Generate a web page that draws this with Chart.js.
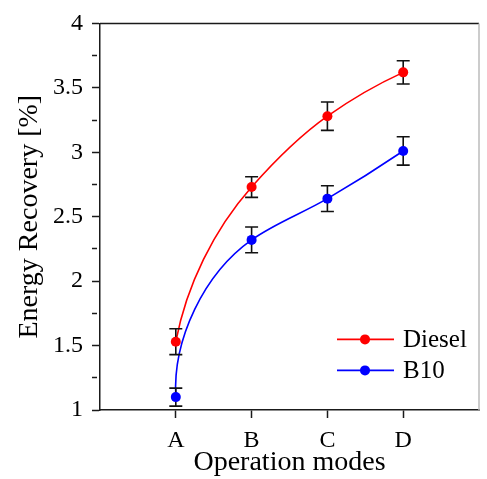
<!DOCTYPE html>
<html>
<head>
<meta charset="utf-8">
<title>Energy Recovery</title>
<script src="https://cdn.jsdelivr.net/npm/chart.js@4.4.1/dist/chart.umd.min.js"></script>
<style>
  body { margin: 0; background: #fff; }
  #wrap { width: 487px; height: 479px; position: relative; }
</style>
</head>
<body>
<div id="wrap"><canvas id="chart"></canvas></div>
<script>
'use strict';

// ===== data =====
var categories = ['A', 'B', 'C', 'D'];
var seriesNames = ['Diesel', 'B10'];
var dieselValues = [1.53, 2.73, 3.28, 3.62];
var dieselErrors = [0.10, 0.08, 0.11, 0.09];
var b10Values = [1.10, 2.32, 2.64, 3.01];
var b10Errors = [0.07, 0.10, 0.10, 0.11];
var yTicks = [1, 1.5, 2, 2.5, 3, 3.5, 4];

var FONT = 'Liberation Serif';
var AXIS = '#1a1a1a';

// categories sit at x = 1..4 on a 0..5 axis
function toPoints(values) {
  return values.map(function (v, i) { return { x: i + 1, y: v }; });
}

// smooth parametric curve through the point elements (pixel positions come from the scales)
function smoothPath(ctx, pts) {
  var n = pts.length, h = [], d = [], t = [], i;
  for (i = 0; i < n - 1; i++) {
    var dx = pts[i + 1].x - pts[i].x, dy = pts[i + 1].y - pts[i].y;
    var L = Math.sqrt(dx * dx + dy * dy);
    h.push(L);
    d.push({ x: dx / L, y: dy / L });
  }
  for (i = 1; i < n - 1; i++) {
    var a = h[i] * h[i], b = h[i - 1] * h[i - 1];
    var vx = (a * d[i - 1].x + b * d[i].x) / (a + b);
    var vy = (a * d[i - 1].y + b * d[i].y) / (a + b);
    var m = Math.sqrt(vx * vx + vy * vy);
    t[i] = { x: vx / m, y: vy / m };
  }
  function reflect(v, c) {
    var k = 2 * (v.x * c.x + v.y * c.y);
    return { x: k * c.x - v.x, y: k * c.y - v.y };
  }
  t[0] = reflect(t[1], d[0]);
  t[n - 1] = reflect(t[n - 2], d[n - 2]);
  ctx.moveTo(pts[0].x, pts[0].y);
  for (i = 0; i < n - 1; i++) {
    var s = h[i] / 3;
    ctx.bezierCurveTo(pts[i].x + t[i].x * s, pts[i].y + t[i].y * s,
      pts[i + 1].x - t[i + 1].x * s, pts[i + 1].y - t[i + 1].y * s,
      pts[i + 1].x, pts[i + 1].y);
  }
}

// curves + error bars, drawn before Chart.js puts the markers on top
var curvesAndErrors = {
  id: 'curvesAndErrors',
  beforeDatasetsDraw: function (chart) {
    var ctx = chart.ctx;
    var yScale = chart.scales.y;
    ctx.save();
    chart.data.datasets.forEach(function (ds, di) {
      var meta = chart.getDatasetMeta(di);
      ctx.strokeStyle = ds.borderColor;
      ctx.lineWidth = 1.6;
      ctx.beginPath();
      smoothPath(ctx, meta.data);
      ctx.stroke();
    });
    ctx.strokeStyle = '#111';
    ctx.lineWidth = 1.6;
    chart.data.datasets.forEach(function (ds, di) {
      var meta = chart.getDatasetMeta(di);
      meta.data.forEach(function (pt, i) {
        var v = ds.data[i].y;
        var e = ds.errors[i];
        var top = yScale.getPixelForValue(v + e);
        var bot = yScale.getPixelForValue(v - e);
        ctx.beginPath();
        ctx.moveTo(pt.x, top);
        ctx.lineTo(pt.x, bot);
        ctx.moveTo(pt.x - 6.5, top);
        ctx.lineTo(pt.x + 6.5, top);
        ctx.moveTo(pt.x - 6.5, bot);
        ctx.lineTo(pt.x + 6.5, bot);
        ctx.stroke();
      });
    });
    ctx.restore();
  }
};

// top + right edges of the box, and the legend inside the plot
var frameAndLegend = {
  id: 'frameAndLegend',
  afterDraw: function (chart) {
    var ctx = chart.ctx;
    var a = chart.chartArea;
    ctx.save();
    ctx.strokeStyle = AXIS;
    ctx.lineWidth = 1.5;
    ctx.beginPath();
    ctx.moveTo(a.left, a.top);
    ctx.lineTo(a.right, a.top);
    ctx.stroke();
    ctx.strokeStyle = '#bbb';
    ctx.beginPath();
    ctx.moveTo(a.right, a.top);
    ctx.lineTo(a.right, a.bottom);
    ctx.stroke();

    // legend
    var lx = a.left + 237, ly = a.top + 316, gap = 31;
    ctx.font = '25px "' + FONT + '"';
    ctx.textBaseline = 'middle';
    ctx.textAlign = 'left';
    chart.data.datasets.forEach(function (ds, i) {
      var y = ly + i * gap;
      ctx.strokeStyle = ds.borderColor;
      ctx.lineWidth = 1.6;
      ctx.beginPath();
      ctx.moveTo(lx, y);
      ctx.lineTo(lx + 57, y);
      ctx.stroke();
      ctx.fillStyle = ds.backgroundColor;
      ctx.beginPath();
      ctx.arc(lx + 28, y, 5, 0, Math.PI * 2);
      ctx.fill();
      ctx.fillStyle = '#000';
      ctx.fillText(ds.label, lx + 66, y + 1);
    });
    ctx.restore();
  }
};

var chart = new Chart(document.getElementById('chart'), {
  type: 'line',
  data: {
    datasets: [
      {
        label: seriesNames[0],
        data: toPoints(dieselValues),
        errors: dieselErrors,
        borderColor: '#ff0000',
        backgroundColor: '#ff0000',
        showLine: false,
        pointRadius: 5,
        pointBorderWidth: 0
      },
      {
        label: seriesNames[1],
        data: toPoints(b10Values),
        errors: b10Errors,
        borderColor: '#0000ff',
        backgroundColor: '#0000ff',
        showLine: false,
        pointRadius: 5,
        pointBorderWidth: 0
      }
    ]
  },
  options: {
    responsive: true,
    maintainAspectRatio: false,
    animation: false,
    devicePixelRatio: 1,
    layout: { padding: { top: 21, right: 1, left: 0, bottom: 0 } },
    plugins: {
      legend: { display: false },
      tooltip: { enabled: false }
    },
    scales: {
      x: {
        type: 'linear',
        min: 0,
        max: 5,
        afterFit: function (s) { s.height = 69; },
        border: { display: true, color: AXIS, width: 1.5 },
        grid: {
          drawOnChartArea: false,
          tickLength: 8,
          tickWidth: 1.5,
          tickColor: function (c) {
            var v = c.tick ? c.tick.value : 0;
            return (v >= 1 && v <= categories.length) ? AXIS : 'rgba(0,0,0,0)';
          }
        },
        ticks: {
          stepSize: 1,
          autoSkip: false,
          maxRotation: 0,
          padding: 8,
          color: '#000',
          font: { family: FONT, size: 24 },
          callback: function (v) { return categories[v - 1] || ''; }
        },
        title: {
          display: true,
          text: 'Operation modes',
          color: '#000',
          font: { family: FONT, size: 28 },
          padding: { top: 0, bottom: 0 }
        }
      },
      y: {
        min: yTicks[0],
        max: yTicks[yTicks.length - 1],
        afterFit: function (s) { s.width = 100; },
        border: { display: true, color: AXIS, width: 1.5 },
        grid: {
          drawOnChartArea: false,
          tickLength: 8,
          tickWidth: 1.5,
          tickColor: AXIS,
          tickBorderDash: function (c) {
            var v = c.tick ? c.tick.value : 0;
            return yTicks.indexOf(v) >= 0 ? [] : [5, 20];
          }
        },
        ticks: {
          stepSize: 0.25,
          autoSkip: false,
          padding: 9,
          color: '#000',
          font: { family: FONT, size: 24 },
          callback: function (v) { return yTicks.indexOf(v) >= 0 ? String(v) : ''; }
        },
        title: {
          display: true,
          text: 'Energy Recovery [%]',
          color: '#000',
          font: { family: FONT, size: 28 },
          padding: { top: 13, bottom: 0 }
        }
      }
    }
  },
  plugins: [curvesAndErrors, frameAndLegend]
});
</script>
</body>
</html>
